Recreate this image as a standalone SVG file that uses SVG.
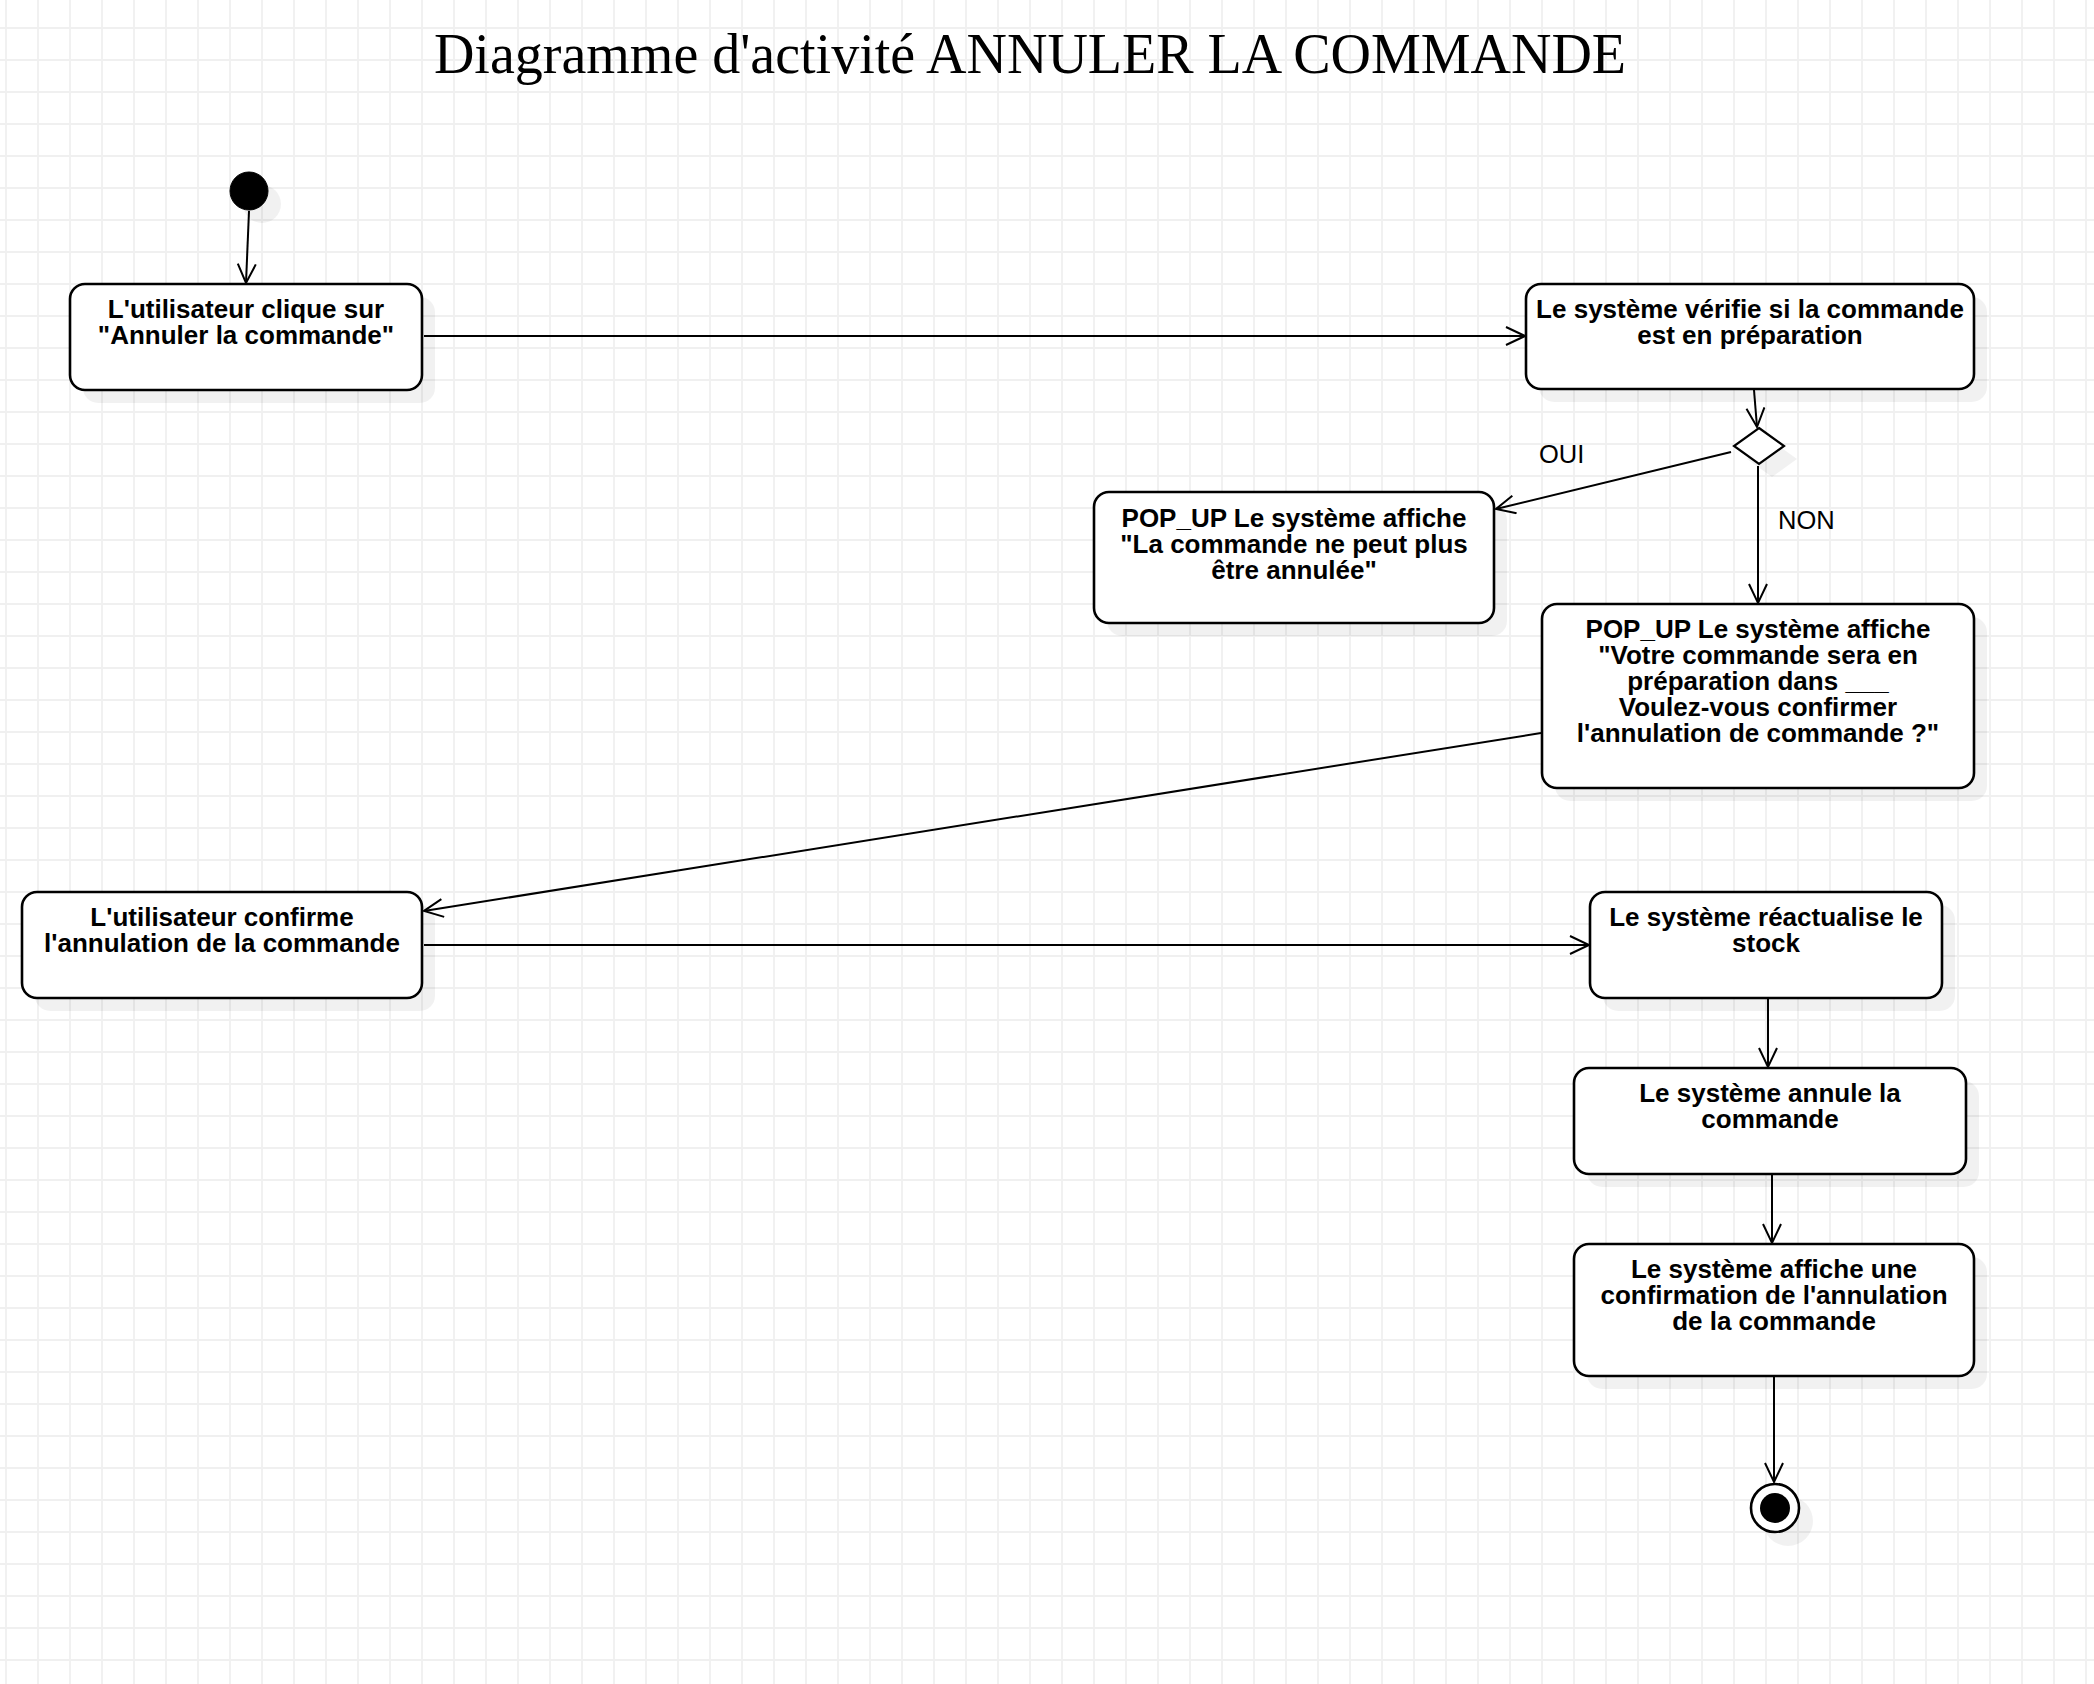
<svg xmlns="http://www.w3.org/2000/svg" width="2094" height="1684" viewBox="0 0 2094 1684">
  <defs>
    <pattern id="grid" width="32" height="32" patternUnits="userSpaceOnUse" x="5" y="27">
      <path d="M0,1 H32 M1,0 V32" fill="none" stroke="#f0f0f0" stroke-width="1.8"/>
    </pattern>
    <marker id="open" markerWidth="24" markerHeight="22" refX="20" refY="10" orient="auto" markerUnits="userSpaceOnUse">
      <path d="M1,1 L20,10 L1,19" fill="none" stroke="#000" stroke-width="2"/>
    </marker>
    <style>
      .node rect.box { fill: #fff; stroke: #000; stroke-width: 2.6; }
      .shadow { fill: #000; fill-opacity: 0.055; stroke: none; }
      .lbl { font-family: "Liberation Sans", Arial, sans-serif; font-weight: bold; font-size: 26px; text-anchor: middle; fill: #000; }
      .elbl { font-family: "Liberation Sans", Arial, sans-serif; font-size: 25.5px; fill: #000; }
      .edge { fill: none; stroke: #000; stroke-width: 2; marker-end: url(#open); }
      .title { font-family: "Liberation Serif", "Times New Roman", serif; font-size: 56px; text-anchor: middle; fill: #000; }
    </style>
  </defs>

  <rect x="0" y="0" width="2094" height="1684" fill="#fff"/>
  <rect x="0" y="0" width="2094" height="1684" fill="url(#grid)"/>

  <text class="title" x="1030" y="73">Diagramme d'activité ANNULER LA COMMANDE</text>

  <g id="connectors">
    <path class="edge" d="M249,211 L246,283"/>
    <path class="edge" d="M424,336 H1525"/>
    <path class="edge" d="M1754,390 L1757,427"/>
    <path class="edge" d="M1731,452 L1496,509"/>
    <path class="edge" d="M1758,466 V603"/>
    <path class="edge" d="M1541,733 L424,911"/>
    <path class="edge" d="M424,945 H1589"/>
    <path class="edge" d="M1768,999 V1067"/>
    <path class="edge" d="M1772,1175 V1243"/>
    <path class="edge" d="M1774,1377 V1482"/>
    <text class="elbl" x="1539" y="463">OUI</text>
    <text class="elbl" x="1778" y="529">NON</text>
  </g>

  <g id="start" class="node">
    <circle class="shadow" cx="262" cy="204" r="19"/>
    <circle cx="249" cy="191" r="19" fill="#000" stroke="#000" stroke-width="1"/>
  </g>

  <g id="clique" class="node">
    <rect class="shadow" x="83" y="297" width="352" height="106" rx="15"/>
    <rect class="box" x="70" y="284" width="352" height="106" rx="15"/>
    <text class="lbl" x="246" y="318">L'utilisateur clique sur</text>
    <text class="lbl" x="246" y="344">"Annuler la commande"</text>
  </g>

  <g id="verifie" class="node">
    <rect class="shadow" x="1539" y="297" width="448" height="105" rx="15"/>
    <rect class="box" x="1526" y="284" width="448" height="105" rx="15"/>
    <text class="lbl" x="1750" y="318">Le système vérifie si la commande</text>
    <text class="lbl" x="1750" y="344">est en préparation</text>
  </g>

  <g id="decision" class="node">
    <path class="shadow" d="M1772,441 L1797,459 L1772,477 L1747,459 Z"/>
    <path d="M1759,428 L1784,446 L1759,464 L1734,446 Z" fill="#fff" stroke="#000" stroke-width="2.2"/>
  </g>

  <g id="popup-refus" class="node">
    <rect class="shadow" x="1107" y="505" width="400" height="131" rx="15"/>
    <rect class="box" x="1094" y="492" width="400" height="131" rx="15"/>
    <text class="lbl" x="1294" y="527">POP_UP Le système affiche</text>
    <text class="lbl" x="1294" y="553">"La commande ne peut plus</text>
    <text class="lbl" x="1294" y="579">être annulée"</text>
  </g>

  <g id="popup-confirm" class="node">
    <rect class="shadow" x="1555" y="617" width="432" height="184" rx="15"/>
    <rect class="box" x="1542" y="604" width="432" height="184" rx="15"/>
    <text class="lbl" x="1758" y="638">POP_UP Le système affiche</text>
    <text class="lbl" x="1758" y="664">"Votre commande sera en</text>
    <text class="lbl" x="1758" y="690">préparation dans ___</text>
    <text class="lbl" x="1758" y="716">Voulez-vous confirmer</text>
    <text class="lbl" x="1758" y="742">l'annulation de commande ?"</text>
  </g>

  <g id="confirme" class="node">
    <rect class="shadow" x="35" y="905" width="400" height="106" rx="15"/>
    <rect class="box" x="22" y="892" width="400" height="106" rx="15"/>
    <text class="lbl" x="222" y="926">L'utilisateur confirme</text>
    <text class="lbl" x="222" y="952">l'annulation de la commande</text>
  </g>

  <g id="stock" class="node">
    <rect class="shadow" x="1603" y="905" width="352" height="106" rx="15"/>
    <rect class="box" x="1590" y="892" width="352" height="106" rx="15"/>
    <text class="lbl" x="1766" y="926">Le système réactualise le</text>
    <text class="lbl" x="1766" y="952">stock</text>
  </g>

  <g id="annule" class="node">
    <rect class="shadow" x="1587" y="1081" width="392" height="106" rx="15"/>
    <rect class="box" x="1574" y="1068" width="392" height="106" rx="15"/>
    <text class="lbl" x="1770" y="1102">Le système annule la</text>
    <text class="lbl" x="1770" y="1128">commande</text>
  </g>

  <g id="affiche-confirmation" class="node">
    <rect class="shadow" x="1587" y="1257" width="400" height="132" rx="15"/>
    <rect class="box" x="1574" y="1244" width="400" height="132" rx="15"/>
    <text class="lbl" x="1774" y="1278">Le système affiche une</text>
    <text class="lbl" x="1774" y="1304">confirmation de l'annulation</text>
    <text class="lbl" x="1774" y="1330">de la commande</text>
  </g>

  <g id="end" class="node">
    <circle class="shadow" cx="1788" cy="1521" r="25"/>
    <circle cx="1775" cy="1508" r="24" fill="#fff" stroke="#000" stroke-width="2.6"/>
    <circle cx="1775" cy="1508" r="15" fill="#000"/>
  </g>
</svg>
